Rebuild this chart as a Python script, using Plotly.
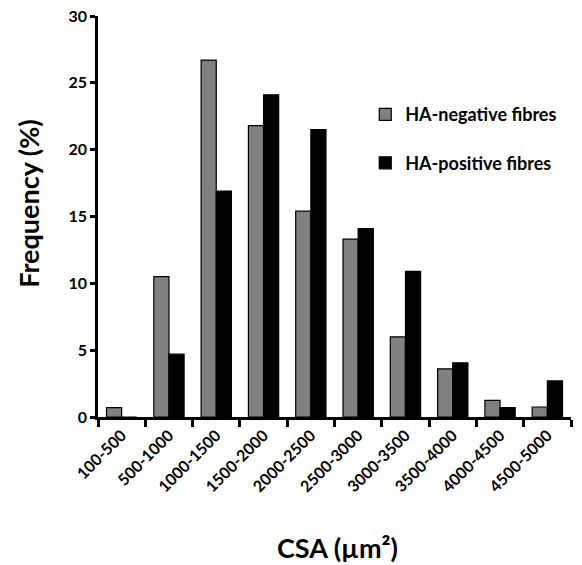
import plotly.graph_objects as go

categories = ["100-500", "500-1000", "1000-1500", "1500-2000", "2000-2500",
              "2500-3000", "3000-3500", "3500-4000", "4000-4500", "4500-5000"]
ha_negative = [0.7, 10.5, 26.7, 21.8, 15.4, 13.3, 6.0, 3.6, 1.25, 0.75]
ha_positive = [0.0, 4.7, 16.9, 24.1, 21.5, 14.1, 10.9, 4.05, 0.7, 2.7]
y_ticks = [0, 5, 10, 15, 20, 25, 30]

FONT = "Lato"

fig = go.Figure()
fig.add_trace(go.Bar(x=categories, y=ha_negative, name="<b>HA-negative fibres</b>",
                     marker=dict(color="#808080", line=dict(color="black", width=1.2)),
                     legendgroup="a"))
fig.add_trace(go.Bar(x=categories, y=ha_positive, name="<b>HA-positive fibres</b>",
                     marker=dict(color="black", line=dict(color="black", width=1.2)),
                     legendgroup="b"))

fig.update_layout(
    width=582, height=565,
    margin=dict(l=98, r=11, t=16, b=148),
    plot_bgcolor="white", paper_bgcolor="white",
    barmode="group", bargap=0.36, bargroupgap=0.0,
    font=dict(family=FONT, color="black"),
    legend=dict(x=0.565, y=0.80, xanchor="left", yanchor="top",
                font=dict(size=18, family=FONT, color="black"),
                tracegroupgap=22, bgcolor="rgba(0,0,0,0)", borderwidth=0),
    xaxis=dict(
        type="category", automargin=False, showline=True, linecolor="black", linewidth=2.5,
        ticks="outside", tickson="boundaries", ticklen=7, tickwidth=2.5, tickcolor="black",
        tickangle=-45, tickfont=dict(size=16, family=FONT, color="black"),
        tickvals=categories, ticktext=["<b>%s</b>" % c for c in categories],
        ticklabeloverflow="allow",
        showgrid=False, zeroline=False,
    ),
    yaxis=dict(
        range=[0, 30], automargin=False, tickvals=y_ticks,
        ticktext=["<b>%d</b>" % v for v in y_ticks],
        showline=True, linecolor="black", linewidth=2.5,
        ticks="outside", ticklen=5, tickwidth=2.5, tickcolor="black",
        tickfont=dict(size=16, family=FONT, color="black"),
        ticklabeloverflow="allow",
        showgrid=False, zeroline=False,
    ),
    annotations=[
        dict(text="<b>Frequency (%)</b>", xref="paper", yref="paper",
             x=-0.146, y=0.534, textangle=-90, showarrow=False,
             xanchor="center", yanchor="middle", font=dict(size=27, family=FONT)),
        dict(text="<b>CSA (µm²)</b>", xref="paper", yref="paper",
             x=0.507, y=-0.325, showarrow=False,
             xanchor="center", yanchor="middle", font=dict(size=27, family=FONT)),
    ],
)

fig.write_html(
    "out.html",
    config={"displayModeBar": False},
    post_script="document.body.style.margin='0';document.body.style.overflow='hidden';"
                "document.documentElement.style.overflow='hidden';",
)
